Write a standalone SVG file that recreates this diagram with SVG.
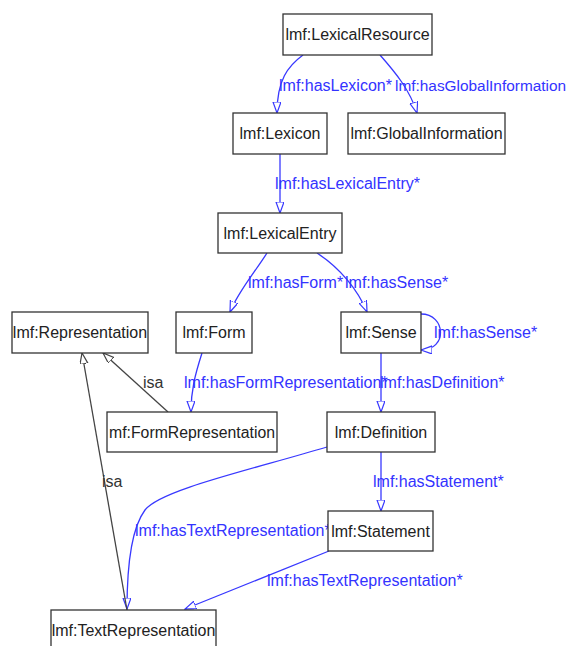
<svg xmlns="http://www.w3.org/2000/svg" width="571" height="646" viewBox="0 0 571 646">
<style>
.node rect{fill:#fff;stroke:#333;stroke-width:1.3}
.node text{font-family:"Liberation Sans",Arial,sans-serif;font-size:16px;fill:#222;text-anchor:middle}
.e{fill:none;stroke:#3838ff;stroke-width:1.3}
.isa{fill:none;stroke:#444;stroke-width:1.3}
.lbl{font-family:"Liberation Sans",Arial,sans-serif;font-size:16px;fill:#3333ff}
.ilbl{font-family:"Liberation Sans",Arial,sans-serif;font-size:16px;fill:#333}
</style>
<defs>
<marker id="ab" markerUnits="userSpaceOnUse" markerWidth="12" markerHeight="10" refX="11" refY="4" orient="auto">
<path d="M0,0 L11,4 L0,8 z" fill="#fff" stroke="#3838ff" stroke-width="1.2"/>
</marker>
<marker id="ai" markerUnits="userSpaceOnUse" markerWidth="12" markerHeight="10" refX="11" refY="4" orient="auto">
<path d="M0,0 L11,4 L0,8 z" fill="#fff" stroke="#444" stroke-width="1.2"/>
</marker>
</defs>
<rect width="571" height="646" fill="#fff"/>
<g id="connectors">
<path class="e" d="M303,55 C288,66 277,80 277,113" marker-end="url(#ab)"/>
<path class="e" d="M380,55 C395,72 410,90 417,113" marker-end="url(#ab)"/>
<path class="e" d="M280,154 L280,213" marker-end="url(#ab)"/>
<path class="e" d="M267,253 C255,272 238,292 230,312" marker-end="url(#ab)"/>
<path class="e" d="M317,253 C340,268 358,290 367,312" marker-end="url(#ab)"/>
<path class="e" d="M421,314 C446,314 448,350 421,350" marker-end="url(#ab)"/>
<path class="e" d="M202,353 C195,375 191,390 191,412" marker-end="url(#ab)"/>
<path class="e" d="M381,353 L381,412" marker-end="url(#ab)"/>
<path class="e" d="M381,452 L381,511" marker-end="url(#ab)"/>
<path class="e" d="M327,447 C250,470 160,490 145,510 C130,530 127,570 127,609" marker-end="url(#ab)"/>
<path class="e" d="M329,551 L185,609" marker-end="url(#ab)"/>
<path class="isa" d="M168,412 L103,353" marker-end="url(#ai)"/>
<path class="isa" d="M127,610 L82,353" marker-end="url(#ai)"/>
<text class="lbl" x="279" y="91">lmf:hasLexicon*</text>
<text class="lbl" x="395" y="91" style="font-size:15.4px">lmf:hasGlobalInformation</text>
<text class="lbl" x="275" y="189">lmf:hasLexicalEntry*</text>
<text class="lbl" x="248" y="288">lmf:hasForm*</text>
<text class="lbl" x="345" y="288">lmf:hasSense*</text>
<text class="lbl" x="434" y="338">lmf:hasSense*</text>
<text class="lbl" x="184" y="388">lmf:hasFormRepresentation*</text>
<text class="lbl" x="380" y="388">lmf:hasDefinition*</text>
<text class="lbl" x="373" y="487">lmf:hasStatement*</text>
<text class="lbl" x="135" y="536">lmf:hasTextRepresentation*</text>
<text class="lbl" x="267" y="586">lmf:hasTextRepresentation*</text>
<text class="ilbl" x="143" y="388">isa</text>
<text class="ilbl" x="102" y="487">isa</text>
</g>
<g id="n-lexicalresource" class="node"><rect x="283" y="14" width="149" height="41"/><text x="357.5" y="40">lmf:LexicalResource</text></g>
<g id="n-lexicon" class="node"><rect x="233" y="113" width="94" height="41"/><text x="280" y="139">lmf:Lexicon</text></g>
<g id="n-globalinformation" class="node"><rect x="348" y="113" width="157" height="41"/><text x="426.5" y="139">lmf:GlobalInformation</text></g>
<g id="n-lexicalentry" class="node"><rect x="218" y="213" width="124" height="40"/><text x="280" y="239">lmf:LexicalEntry</text></g>
<g id="n-representation" class="node"><rect x="12" y="312" width="136" height="41"/><text x="80" y="338">lmf:Representation</text></g>
<g id="n-form" class="node"><rect x="176" y="312" width="76" height="41"/><text x="214" y="338">lmf:Form</text></g>
<g id="n-sense" class="node"><rect x="341" y="312" width="80" height="41"/><text x="381" y="338">lmf:Sense</text></g>
<g id="n-formrepresentation" class="node"><rect x="107" y="412" width="170" height="40"/><text x="109" y="438" style="text-anchor:start" textLength="166" lengthAdjust="spacingAndGlyphs">mf:FormRepresentation</text></g>
<g id="n-definition" class="node"><rect x="327" y="412" width="108" height="40"/><text x="381" y="438">lmf:Definition</text></g>
<g id="n-statement" class="node"><rect x="328" y="511" width="105" height="40"/><text x="380.5" y="537">lmf:Statement</text></g>
<g id="n-textrepresentation" class="node"><rect x="51" y="610" width="165" height="40"/><text x="133.5" y="636">lmf:TextRepresentation</text></g>
</svg>
